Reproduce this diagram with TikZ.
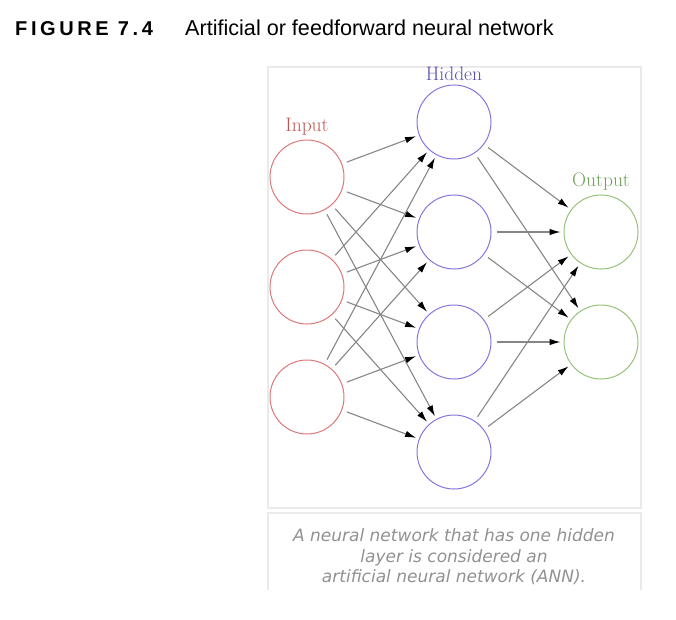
\documentclass[tikz,border=0pt]{standalone}
\usepackage{fontspec}
\usetikzlibrary{arrows.meta}
\newfontfamily\headfont{Liberation Sans}
\newfontfamily\figfont[LetterSpace=18]{Liberation Sans}
\newfontfamily\capfont{DejaVu Sans}
\definecolor{inred}{RGB}{222,120,120}
\definecolor{hidblue}{RGB}{130,120,220}
\definecolor{outgreen}{RGB}{150,195,120}
\definecolor{inlabel}{RGB}{190,85,85}
\definecolor{hidlabel}{RGB}{85,80,175}
\definecolor{outlabel}{RGB}{110,160,90}
\definecolor{framegray}{RGB}{234,234,234}
\definecolor{captext}{RGB}{145,145,145}
\begin{document}
\begin{tikzpicture}[x=1pt, y=-1pt,
        neuron/.style={circle, draw, fill=white, line width=1pt, minimum size=74pt, inner sep=0pt},
        connection/.style={-{Latex[length=11pt,width=6.5pt,color=black]}, draw=gray!95, line width=1.1pt, shorten >=3pt, shorten <=5pt},
        label/.style={font=\fontsize{19.5}{22}\selectfont}
    ]
        \useasboundingbox (0,0) rectangle (676,619);

        % Heading
        \node[anchor=base west, inner sep=0pt] (fignum) at (15,35) {\fontsize{20}{22}\figfont\bfseries FIGURE 7.4};
        \node[anchor=base west, inner sep=0pt] (figtitle) at (185,35) {\fontsize{21.6}{24}\headfont Artificial or feedforward neural network};

        % Frames
        \draw[framegray, line width=1.2pt] (268,67) rectangle (641,508);
        \draw[framegray, line width=1.2pt] (268,590) -- (268,513) -- (641,513) -- (641,590);

        % Input layer
        \foreach \i in {1,2,3} {
            \node[neuron, draw=inred] (in\i) at (307, 67 + \i*110) {};
        }
        \node[label, text=inlabel] (inlab) at (307,127) {Input};

        % Hidden layer
        \foreach \i in {1,2,3,4} {
            \node[neuron, draw=hidblue] (hid\i) at (454, 12 + \i*110) {};
        }
        \node[label, text=hidlabel] (hidlab) at (454,74) {Hidden};

        % Output layer
        \foreach \i in {1,2} {
            \node[neuron, draw=outgreen] (out\i) at (601, 122 + \i*110) {};
        }
        \node[label, text=outlabel] (outlab) at (601,182) {Output};

        % Connections from input to hidden
        \foreach \i in {1,2,3} {
            \foreach \j in {1,2,3,4} {
                \draw[connection] (in\i) -- (hid\j);
            }
        }

        % Connections from hidden to output
        \foreach \i in {1,2,3,4} {
            \foreach \j in {1,2} {
                \draw[connection] (hid\i) -- (out\j);
            }
        }

        % Caption
        \node[align=center, text=captext, font=\fontsize{17}{20.5}\capfont\itshape] (caption) at (454,557)
            {A neural network that has one hidden\\layer is considered an\\artificial neural network (ANN).};
    \end{tikzpicture}
\end{document}
